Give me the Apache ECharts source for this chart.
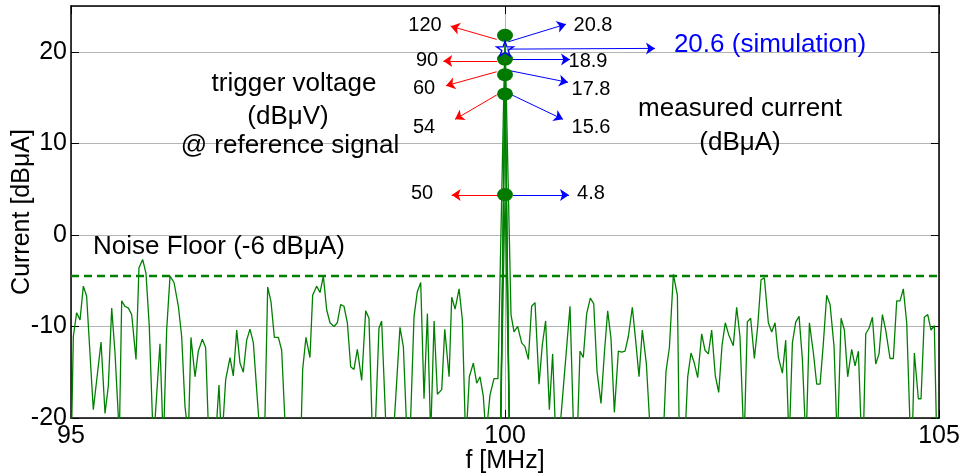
<!DOCTYPE html>
<html>
<head>
<meta charset="utf-8">
<script src="https://cdn.jsdelivr.net/npm/echarts@6/dist/echarts.min.js"></script>
<style>html,body{margin:0;padding:0;background:#fff;}#c{width:961px;height:476px;}</style>
</head>
<body>
<div id="c"></div>
<script>
// ---------- data ----------
const xTicks = [95, 100, 105];
const yTicks = [-20, -10, 0, 10, 20];

// measured spectrum (f in MHz, current in dBuA); values below -20 go off the plot
const noiseFreq = [
  95.000,95.027,95.065,95.104,95.142,95.180,95.257,95.346,95.392,95.430,
  95.469,95.507,95.557,95.584,95.622,95.661,95.699,95.749,95.783,95.826,
  95.864,95.902,95.949,96.025,96.064,96.102,96.141,96.187,96.237,96.275,
  96.313,96.352,96.382,96.429,96.467,96.513,96.551,96.590,96.647,96.705,
  96.736,96.782,96.832,96.870,96.909,96.947,96.985,97.024,97.062,97.101,
  97.139,97.185,97.230,97.266,97.304,97.343,97.389,97.427,97.473,97.562,
  97.649,97.669,97.707,97.753,97.784,97.830,97.869,97.907,97.946,97.984,
  98.030,98.068,98.107,98.145,98.184,98.222,98.260,98.299,98.349,98.395,
  98.433,98.476,98.502,98.548,98.579,98.637,98.714,98.790,98.829,98.875,
  98.906,98.952,98.990,99.029,99.067,99.106,99.144,99.183,99.221,99.271,
  99.306,99.356,99.386,99.425,99.471,99.509,99.548,99.589,99.635,99.674,
  99.712,99.750,99.781,99.804,99.827,99.873,99.919,100.000,100.069,100.104,
  100.146,100.192,100.230,100.269,100.307,100.346,100.392,100.430,100.468,100.511,
  100.549,100.587,100.626,100.749,100.795,100.833,100.864,100.902,100.941,100.983,
  101.022,101.060,101.106,101.145,101.183,101.221,101.260,101.306,101.344,101.383,
  101.421,101.467,101.505,101.544,101.582,101.628,101.682,101.759,101.824,101.855,
  101.894,101.940,101.986,102.009,102.074,102.105,102.143,102.181,102.220,102.266,
  102.304,102.343,102.381,102.423,102.462,102.500,102.538,102.577,102.630,102.669,
  102.707,102.754,102.792,102.830,102.873,102.911,102.950,102.988,103.034,103.073,
  103.111,103.150,103.196,103.234,103.273,103.311,103.350,103.388,103.426,103.468,
  103.507,103.553,103.591,103.630,103.668,103.706,103.745,103.791,103.829,103.872,
  103.910,103.948,103.994,104.033,104.071,104.110,104.129,104.156,104.194,104.233,
  104.271,104.309,104.348,104.386,104.436,104.474,104.513,104.551,104.589,104.628,
  104.674,104.693,104.716,104.762,104.793,104.831,104.870,104.908,104.946,104.975
];
const noiseLevel = [
  -25,-11.1,-8.5,-9.3,-5.6,-6.7,-19.1,-11.7,-19.5,-16.5,
  -8.0,-12.9,-22,-7.2,-7.8,-8.0,-8.7,-13.6,-3.6,-2.7,
  -4.2,-10.0,-23,-11.9,-23,-10.4,-4.5,-5.2,-7.8,-11.1,
  -18.7,-22,-11.2,-15.5,-12.7,-11.4,-12.3,-23,-25,-16.4,
  -23,-15.8,-13.4,-15.4,-10.4,-14.0,-15.0,-11.5,-10.3,-11.8,
  -16.9,-23,-22,-5.7,-7.3,-11.2,-11.2,-12.6,-22,-26,
  -22,-14.7,-11.2,-13.4,-6.6,-5.6,-6.3,-4.5,-8.2,-9.6,
  -10.0,-9.6,-7.6,-7.8,-9.6,-14.4,-14.7,-12.5,-15.9,-8.3,
  -9.1,-23,-22,-10.2,-9.4,-23,-22,-10.1,-12.2,-23,
  -22,-8.9,-6.2,-5.2,-17.9,-8.6,-22,-9.4,-17.4,-16.9,
  -10.3,-15.5,-6.8,-8.1,-5.9,-9.3,-23,-15.5,-14.0,-16.2,
  -15.5,-17.6,-22,-22,-17.5,-15.7,-15.7,21.8,-8.7,-10.6,
  -10.0,-11.8,-12.2,-13.6,-7.8,-7.4,-16.3,-12.0,-9.4,-19.1,
  -13.0,-23,-22,-7.8,-23,-22,-12.7,-13.4,-8.6,-6.9,
  -7.5,-14.9,-18.4,-12.9,-8.3,-11.3,-19.4,-12.7,-12.8,-12.7,
  -11.1,-7.9,-11.5,-15.5,-10.4,-14.0,-23,-26,-22,-14.9,
  -12.3,-4.3,-6.6,-23,-22,-15.5,-12.9,-14.0,-15.6,-10.8,
  -12.6,-13.0,-10.4,-15.4,-17.2,-12.1,-9.6,-10.9,-12.1,-7.9,
  -11.1,-23,-9.5,-9.1,-13.5,-10.0,-4.9,-4.7,-9.6,-10.6,
  -9.6,-13.4,-15.1,-11.5,-23,-11.8,-9.5,-8.9,-13.6,-23,
  -9.6,-12.9,-16.3,-16.3,-11.8,-6.6,-7.6,-12.2,-23,-9.1,
  -10.4,-15.5,-12.5,-14.3,-12.7,-23,-22,-10.8,-10.2,-9.0,
  -14.1,-13.0,-8.7,-10.4,-13.5,-13.5,-7.2,-7.2,-5.9,-9.6,
  -23,-22,-12.9,-17.9,-17.9,-9.0,-8.7,-10.4,-9.9,-23
];

// other measured peaks (narrow lines at 100 MHz)
const peakFreq = [99.95, 100.0, 100.05];
const peakTraces = [
  [-21, 19.2, -21],
  [-21, 17.5, -21],
  [-21, 15.4, -21],
  [-21, 4.4, -21]
];

const noiseFloorFreq = [95, 105];
const noiseFloorLevel = [-4.5, -4.5];

const markerFreq = 100;
const markerLevels = [21.8, 19.2, 17.5, 15.4, 4.4];
const simulationLevel = 20.35;

const triggerLabels = ['120', '90', '60', '54', '50'];
const currentLabels = ['20.8', '18.9', '17.8', '15.6', '4.8'];

// arrows [from, to] in data units
const redArrows = [
  [[99.904, 21.35], [99.374, 22.8]],
  [[99.908, 18.99], [99.289, 18.99]],
  [[99.904, 17.82], [99.320, 16.29]],
  [[99.904, 15.28], [99.424, 12.62]],
  [[99.923, 4.37], [99.386, 4.37]]
];
const blueArrows = [
  [[100.038, 21.09], [100.703, 23.02]],
  [[100.020, 20.29], [101.728, 20.37]],
  [[100.035, 19.17], [100.749, 19.17]],
  [[100.058, 17.93], [100.726, 16.66]],
  [[100.058, 15.38], [100.668, 12.62]],
  [[100.092, 4.37], [100.737, 4.37]]
];

// ---------- chart ----------
const FONT = 'Liberation Sans, Arial, sans-serif';
const GREEN = '#008000';
const chart = echarts.init(document.getElementById('c'), null, {renderer: 'canvas'});

const noiseData = noiseFreq.map((f, i) => [f, noiseLevel[i]]);
const peakSeries = peakTraces.map(tr => ({
  type: 'line', data: peakFreq.map((f, i) => [f, tr[i]]),
  showSymbol: false, symbol: 'none', clip: true, silent: true,
  lineStyle: {color: GREEN, width: 1.2}, z: 3
}));

const axisCommon = {
  type: 'value',
  axisLine: {show: true, onZero: false, lineStyle: {color: '#000', width: 1.5}},
  axisTick: {show: true, inside: true, length: 8, lineStyle: {color: '#000', width: 1}},
  splitLine: {show: false}
};

const txt = (text, x, y, size, color, align) => ({
  type: 'text', x: x, y: y, silent: true, z: 100,
  style: {text: text, fill: color || '#000', font: size + 'px ' + FONT,
          textAlign: align || 'center', textVerticalAlign: 'middle'}
});

const textPosL = [[425, 25], [427, 60], [424, 88], [424, 127], [422, 193]];
const textPosR = [[593, 25], [588, 61], [591, 89], [591, 127], [591, 193]];

const graphics = [];
triggerLabels.forEach((t, i) => graphics.push(txt(t, textPosL[i][0], textPosL[i][1], 20)));
currentLabels.forEach((t, i) => graphics.push(txt(t, textPosR[i][0], textPosR[i][1], 20)));
graphics.push(txt('20.6 (simulation)', 770, 45, 26, '#0000ff'));
graphics.push(txt('measured current', 740, 109, 26));
graphics.push(txt('(dBμA)', 740, 143, 26));
graphics.push(txt('trigger voltage', 294, 84, 26));
graphics.push(txt('(dBμV)', 288, 117, 26));
graphics.push(txt('@ reference signal', 290, 146, 26));
graphics.push(txt('Noise Floor (-6 dBμA)', 93, 247, 26, '#000', 'left'));

const arrowLine = (arr, color) => arr.map(a => [
  {coord: a[0], lineStyle: {color: color, width: 1, type: 'solid'}},
  {coord: a[1]}
]);

chart.setOption({
  animation: false,
  backgroundColor: '#fff',
  grid: {left: 71, right: 22, top: 6, bottom: 58, show: false, containLabel: false, outerBoundsMode: 'none'},
  xAxis: [
    Object.assign({}, axisCommon, {
      min: xTicks[0], max: xTicks[xTicks.length - 1], interval: 5, position: 'bottom',
      axisLabel: {show: true, fontSize: 25, color: '#000', fontFamily: FONT, margin: 6},
      splitLine: {show: true, lineStyle: {color: '#b4b4b4', width: 1}},
      name: 'f [MHz]', nameLocation: 'middle', nameGap: 31, nameMoveOverlap: false,
      nameTextStyle: {fontSize: 25, color: '#000', fontFamily: FONT}
    }),
    Object.assign({}, axisCommon, {
      min: xTicks[0], max: xTicks[xTicks.length - 1], interval: 5, position: 'top',
      axisLabel: {show: false}
    })
  ],
  yAxis: [
    Object.assign({}, axisCommon, {
      min: yTicks[0], max: 25, interval: 10, position: 'left',
      axisLabel: {show: true, fontSize: 25, color: '#000', fontFamily: FONT, margin: 4, showMaxLabel: false,
        formatter: v => (yTicks.indexOf(v) >= 0 ? String(v) : '')},
      splitLine: {show: true, lineStyle: {color: '#b4b4b4', width: 1}},
      name: 'Current [dBμA]', nameLocation: 'middle', nameGap: 36, nameMoveOverlap: false,
      nameTextStyle: {fontSize: 25, color: '#000', fontFamily: FONT}
    }),
    Object.assign({}, axisCommon, {
      min: yTicks[0], max: 25, interval: 10, position: 'right',
      axisLabel: {show: false}
    })
  ],
  series: [
    {
      type: 'line', data: noiseData, showSymbol: false, symbol: 'none', clip: true, silent: true,
      lineStyle: {color: GREEN, width: 1.3}, z: 3
    },
    ...peakSeries,
    {
      type: 'line', data: noiseFloorFreq.map((f, i) => [f, noiseFloorLevel[i]]),
      showSymbol: false, symbol: 'none', silent: true,
      lineStyle: {color: GREEN, width: 2.5, type: [8, 5]}, z: 4
    },
    {
      type: 'line', data: [], silent: true, z: 6,
      markLine: {silent: true, symbol: ['none', 'arrow'], symbolSize: 9, animation: false,
        label: {show: false}, lineStyle: {color: '#ff0000', width: 1, type: 'solid'},
        emphasis: {disabled: true},
        data: arrowLine(redArrows, '#ff0000')}
    },
    {
      type: 'line', data: [], silent: true, z: 6,
      markLine: {silent: true, symbol: ['none', 'arrow'], symbolSize: 9, animation: false,
        label: {show: false}, lineStyle: {color: '#0000ff', width: 1, type: 'solid'},
        emphasis: {disabled: true},
        data: arrowLine(blueArrows, '#0000ff')}
    },
    {
      type: 'scatter', data: markerLevels.map(v => [markerFreq, v]),
      symbol: 'circle', symbolSize: [16, 13], silent: true, z: 8,
      itemStyle: {color: '#007a00', opacity: 1}
    },
    {
      type: 'scatter', data: [[markerFreq, simulationLevel]],
      symbol: 'path://M50,0 L61,35 L98,35 L68,57 L79,91 L50,70 L21,91 L32,57 L2,35 L39,35 Z',
      symbolSize: [17, 15], silent: true, z: 9,
      itemStyle: {color: 'rgba(0,0,0,0)', borderColor: '#0000ff', borderWidth: 1.3, opacity: 1}
    }
  ],
  graphic: graphics
});
</script>
</body>
</html>
